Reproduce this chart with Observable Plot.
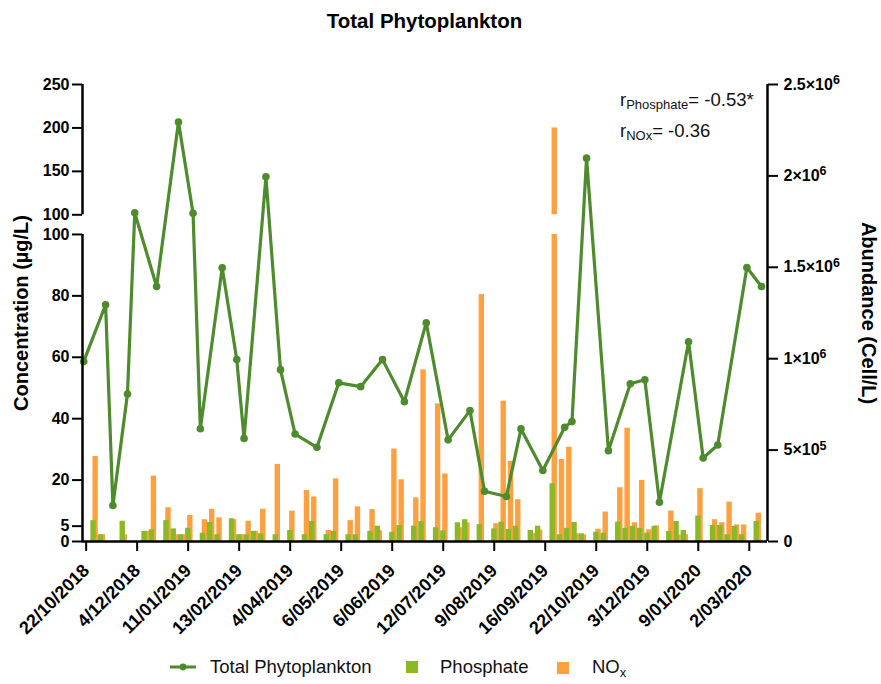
<!DOCTYPE html>
<html>
<head>
<meta charset="utf-8">
<script src="https://cdn.jsdelivr.net/npm/d3@7"></script>
<script src="https://cdn.jsdelivr.net/npm/@observablehq/plot@0.6"></script>
<style>
  body { margin: 0; background: #fff; font-family: "Liberation Sans", Arial, sans-serif; }
  #wrap { position: relative; width: 881px; height: 684px; overflow: hidden; }
  #chart { position: absolute; left: 0; top: 0; }
  #title { position: absolute; left: 0; width: 849px; top: 9px; text-align: center; font-weight: bold; font-size: 20.5px; color: #000; }
  #stats { position: absolute; left: 620px; top: 87px; font-size: 18.5px; line-height: 26px; color: #111; }
  #stats sub { font-size: 13px; vertical-align: -3px; }
  .leg { position: absolute; top: 656px; font-size: 18.5px; color: #111; display: flex; align-items: center; }
  .leg sub { font-size: 13px; vertical-align: -4px; }
</style>
</head>
<body>
<div id="wrap">
  <div id="chart"></div>
  <div id="title">Total Phytoplankton</div>
  <div id="stats">r<sub>Phosphate</sub>= -0.53*<br>r<sub>NOx</sub>= -0.36</div>
  <div class="leg" style="left:168px"><svg width="30" height="20"><line x1="2" x2="28" y1="10" y2="10" stroke="#4E8B2D" stroke-width="3"/><circle cx="15" cy="10" r="3.4" fill="#4E8B2D"/></svg><span style="margin-left:12px">Total Phytoplankton</span></div>
  <div class="leg" style="left:406px"><svg width="13" height="20"><rect x="0" y="4" width="12" height="12" fill="#8AB925"/></svg><span style="margin-left:21px">Phosphate</span></div>
  <div class="leg" style="left:557px"><svg width="13" height="20"><rect x="0" y="4" width="12" height="12" fill="#FFA040"/></svg><span style="margin-left:22px">NO<sub>x</sub></span></div>
</div>
<script>
// Sampling rows (one per sampling date); every 7th row carries a date label
const rowCount = 94;
const tickRows = [0, 7, 14, 21, 28, 35, 42, 49, 56, 63, 70, 77, 84, 91];
const tickDates = ["22/10/2018", "4/12/2018", "11/01/2019", "13/02/2019", "4/04/2019", "6/05/2019",
  "6/06/2019", "12/07/2019", "9/08/2019", "16/09/2019", "22/10/2019", "3/12/2019", "9/01/2020", "2/03/2020"];

// Total phytoplankton abundance (cells/L), right axis
const phytoRows = [0, 3, 4, 6, 7, 10, 13, 15, 16, 19, 21, 22, 25, 27, 29, 32, 35, 38, 41, 44,
  47, 50, 53, 55, 58, 60, 63, 66, 67, 69, 72, 75, 77, 79, 83, 85, 87, 91, 93];
const phytoAbundance = [985000, 1295000, 197000, 807000, 1798000, 1395000, 2295000, 1796000, 617000, 1497000,
  995000, 564000, 1995000, 940000, 588000, 515000, 868000, 847000, 995000, 765000,
  1197000, 556000, 716000, 275000, 246000, 616000, 388000, 625000, 656000, 2097000,
  497000, 863000, 885000, 215000, 1093000, 457000, 528000, 1499000, 1395000];

// Nutrient concentrations (µg/L), left axis
const nutrientRows = [1, 2, 5, 8, 9, 11, 12, 13, 14, 16, 17, 18, 20, 21, 22, 23, 24, 26, 28, 30,
  31, 33, 34, 36, 37, 39, 40, 42, 43, 45, 46, 48, 49, 51, 52, 54, 56, 57, 58, 59,
  61, 62, 64, 65, 66, 67, 68, 70, 71, 73, 74, 75, 76, 77, 78, 80, 81, 82, 84, 86,
  87, 88, 89, 90, 92];
const phosphate = [6.8, 2.2, 6.6, 3.3, 3.8, 6.8, 4.1, 2.2, 4.3, 2.7, 6.2, 2.2, 7.4, 2.2, 2.2, 3.3, 2.5, 2.2, 3.6, 2.2,
  6.5, 2.2, 3.3, 2.2, 2.2, 3.3, 5.0, 3.0, 5.2, 5.0, 6.5, 4.5, 3.5, 6.1, 7.1, 5.5, 4.1, 6.3, 3.9, 5.0,
  3.6, 5.0, 18.8, 2.2, 4.3, 6.2, 2.5, 3.0, 2.7, 6.3, 4.3, 4.9, 4.3, 2.7, 4.9, 3.3, 6.5, 3.6, 8.3, 5.2,
  5.2, 2.2, 4.9, 2.2, 6.5];
const nox = [27.7, 2.2, 2.2, 3.3, 21.3, 11.0, 2.2, 2.2, 8.5, 7.1, 10.5, 7.7, 7.1, 2.2, 6.6, 3.3, 10.5, 25.1, 9.9, 16.6,
  14.5, 3.6, 20.4, 6.8, 11.3, 10.4, 3.5, 30.1, 20.1, 14.2, 55.9, 44.8, 22.0, 4.5, 6.1, 80.4, 5.8, 45.7, 26.1, 13.6,
  2.6, 3.7, 200, 26.7, 30.7, 2.5, 2.2, 4.0, 9.6, 17.5, 36.9, 6.1, 19.9, 3.8, 5.1, 9.9, 2.2, 2.2, 17.2, 7.1,
  6.1, 12.8, 5.4, 5.4, 9.2];

const leftTicksLower = [0, 5, 20, 40, 60, 80, 100];
const leftTicksUpper = [100, 150, 200, 250];
const rightTicks = [0, 500000, 1000000, 1500000, 2000000, 2500000];
// mantissa and exponent of each right-axis label
const rightTickMantissa = ["0", "5", "1", "1.5", "2", "2.5"];
const rightTickExponent = [null, "5", "6", "6", "6", "6"];

// Broken left axis: 0–100 on the main segment, 100–250 compressed above a gap.
// Positions are expressed in "lower segment units".
const BREAK = 100, GAP = 6.4, UPPER_K = 0.2829;
const upperY = v => BREAK + GAP + (v - BREAK) * UPPER_K;
const concY = v => v <= BREAK ? v : upperY(v);
const Y_MAX = upperY(250);
const ABUND_MAX = 2500000;
const abundY = a => a / ABUND_MAX * Y_MAX;

const GREEN = "#8AB925", ORANGE = "#FFA040", LINE = "#4E8B2D";

// Within each row: phytoplankton at the left slot, phosphate in the middle, NOx to the right
const PHYTO_OFF = -0.33, PHOS_OFF = 0.02, NOX_OFF = 0.3, BAR_W = 0.74;

function barPieces(values, off) {
  const out = [];
  nutrientRows.forEach((row, i) => {
    const v = values[i];
    out.push({x1: row + off - BAR_W / 2, x2: row + off + BAR_W / 2, y1: 0, y2: concY(Math.min(v, BREAK))});
    if (v > BREAK) out.push({x1: row + off - BAR_W / 2, x2: row + off + BAR_W / 2, y1: BREAK + GAP, y2: concY(v)});
  });
  return out;
}
const noxBars = barPieces(nox, NOX_OFF);
const phosBars = barPieces(phosphate, PHOS_OFF);
const phyto = phytoRows.map((row, i) => ({x: row + PHYTO_OFF, y: abundY(phytoAbundance[i])}));

const xDomain = [-0.5, rowCount - 0.5];
const leftTicks = [
  ...leftTicksLower.map(v => ({pos: v, text: String(v)})),
  ...leftTicksUpper.map(v => ({pos: upperY(v), text: String(v)}))
];
const leftTickPos = leftTicks.map(d => d.pos);
const rightTickPos = rightTicks.map(abundY);
const rightTickText = rightTickMantissa.map((m, i) => rightTickExponent[i] ? `${m}×10^${rightTickExponent[i]}` : m);

const chart = Plot.plot({
  width: 881,
  height: 684,
  marginLeft: 82,
  marginRight: 114,
  marginTop: 84,
  marginBottom: 143,
  x: {type: "linear", domain: xDomain},
  y: {type: "linear", domain: [0, Y_MAX]},
  style: {fontFamily: "'Liberation Sans', Arial, sans-serif", color: "#000", background: "transparent"},
  marks: [
    Plot.rect(noxBars, {x1: "x1", x2: "x2", y1: "y1", y2: "y2", fill: ORANGE}),
    Plot.rect(phosBars, {x1: "x1", x2: "x2", y1: "y1", y2: "y2", fill: GREEN}),
    Plot.line(phyto, {x: "x", y: "y", stroke: LINE, strokeWidth: 3.2}),
    Plot.dot(phyto, {x: "x", y: "y", r: 3.8, fill: LINE, stroke: "none"}),
    // axis lines
    Plot.ruleX([{y1: 0, y2: BREAK}, {y1: BREAK + GAP, y2: Y_MAX}], {x: xDomain[0], y1: "y1", y2: "y2", stroke: "#000", strokeWidth: 2.5}),
    Plot.ruleX([xDomain[1]], {stroke: "#000", strokeWidth: 2.5}),
    Plot.ruleY([0], {stroke: "#000", strokeWidth: 2.5}),
    Plot.axisX(tickRows, {
      tickFormat: r => tickDates[tickRows.indexOf(r)],
      tickRotate: -45, tickSize: 10, tickPadding: 16, strokeWidth: 2,
      fontSize: 18, fontWeight: "bold", label: null
    }),
    Plot.axisY(leftTickPos, {
      anchor: "left", tickFormat: d => leftTicks[leftTickPos.indexOf(d)].text,
      tickSize: 10, tickPadding: 3, strokeWidth: 2, fontSize: 16, fontWeight: "bold", label: null
    }),
    Plot.axisY(rightTickPos, {
      anchor: "right", tickFormat: d => rightTickText[rightTickPos.indexOf(d)],
      tickSize: 10, tickPadding: 6, strokeWidth: 2, fontSize: 16, fontWeight: "bold", label: null
    }),
    Plot.text(["Concentration (µg/L)"], {frameAnchor: "left", textAnchor: "middle", rotate: -90, dx: -61, dy: 0, fontSize: 20, fontWeight: "bold"}),
    Plot.text(["Abundance (Cell/L)"], {frameAnchor: "right", textAnchor: "middle", rotate: 90, dx: 101, dy: 0, fontSize: 20, fontWeight: "bold"})
  ]
});

// Render "m×10^e" tick labels with a raised exponent
d3.select(chart).selectAll("text").each(function () {
  const t = this.textContent;
  const k = t.indexOf("^");
  if (k < 0) return;
  const sel = d3.select(this);
  sel.text(null);
  sel.append("tspan").text(t.slice(0, k));
  sel.append("tspan").attr("dy", "-0.45em").attr("font-size", "0.78em").text(t.slice(k + 1));
});

document.getElementById("chart").appendChild(chart);
</script>
</body>
</html>
